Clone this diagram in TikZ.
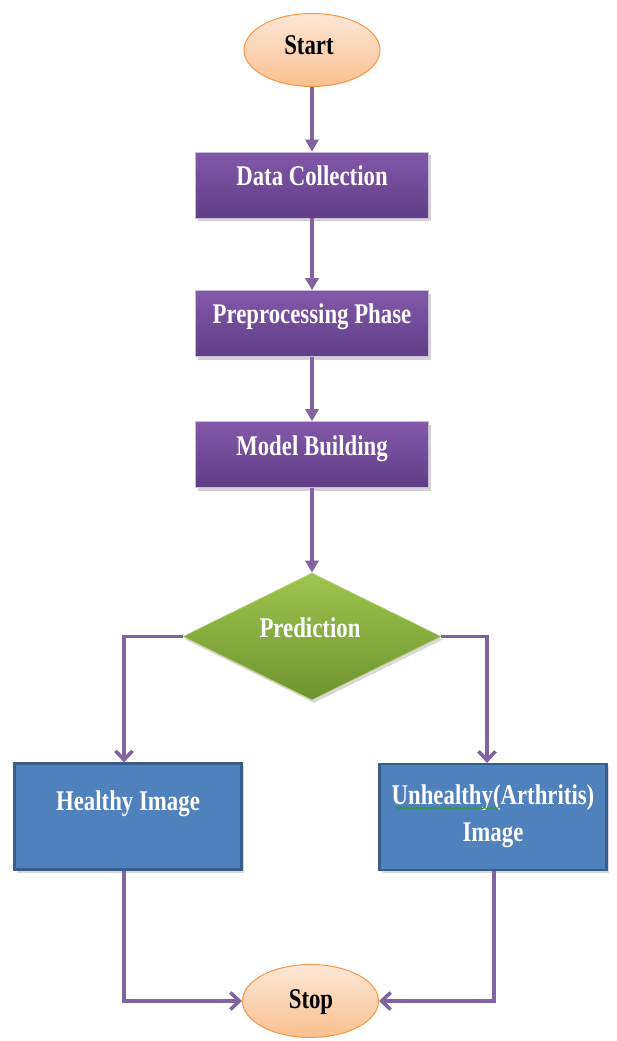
\documentclass[tikz,border=0pt]{standalone}
\usepackage{fontspec}
\setmainfont{Liberation Serif}
\usetikzlibrary{arrows.meta,shapes.geometric,calc,shadows,decorations.pathmorphing}

\definecolor{flowline}{HTML}{8064A2}
\definecolor{procTop}{HTML}{8259AA}
\definecolor{procBot}{HTML}{5E3E86}
\definecolor{procEdge}{HTML}{C9BCDB}
\definecolor{decTop}{HTML}{9FC44E}
\definecolor{decBot}{HTML}{6F9231}
\definecolor{outFill}{HTML}{4F81BD}
\definecolor{outEdge}{HTML}{385D8A}
\definecolor{termTop}{HTML}{FDE7D6}
\definecolor{termBot}{HTML}{FAC08F}
\definecolor{termEdge}{HTML}{F79646}
\definecolor{spellGreen}{HTML}{2E9E2E}

\newcommand{\narrow}[1]{\scalebox{0.8}[1]{#1}}

\tikzset{
  term/.style={ellipse, draw=termEdge, line width=1pt, top color=termTop,
    bottom color=termBot, inner sep=0pt, minimum width=136pt, minimum height=73pt},
  proc/.style={rectangle, draw=procEdge, line width=0.6pt, top color=procTop,
    bottom color=procBot, inner sep=0pt, minimum width=233pt, minimum height=66pt,
    drop shadow={shadow xshift=2pt, shadow yshift=-3pt, opacity=0.35}},
  dec/.style={diamond, draw=decTop!80!white, line width=0.6pt, top color=decTop,
    bottom color=decBot, inner sep=0pt, minimum width=258pt, minimum height=127pt,
    drop shadow={shadow xshift=2pt, shadow yshift=-3pt, opacity=0.3}},
  outbox/.style={rectangle, draw=outEdge, line width=2.2pt, fill=outFill,
    inner sep=0pt, minimum width=227pt, minimum height=106pt,
    drop shadow={shadow xshift=2pt, shadow yshift=-3pt, opacity=0.3}},
  lbl/.style={anchor=base, inner sep=0pt, font=\fontsize{28.5}{37}\selectfont\bfseries},
  wlbl/.style={lbl, text=white},
  flow/.style={draw=flowline, line width=3.6pt},
  fillhead/.style={flow, -{Triangle[width=13pt,length=12pt]}},
  openhead/.style={flow, -{Straight Barb[width=17pt,length=9pt,line width=3.6pt]}}
}

\begin{document}
\begin{tikzpicture}[x=1pt,y=-1pt]
\useasboundingbox (0,0) rectangle (616,1041);

% shapes, all on the centre line x = 312
\node[term]   (start) at (312,50) {};
\node[proc]   (dc)    at (312,185) {};
\node[proc]   (pp)    at (312,323.5) {};
\node[proc]   (mb)    at (312,454.5) {};
\node[dec]    (pred)  at (312,636.5) {};
\node[outbox] (hi)    at (128,816.5) {};
\node[outbox] (ui)    at (493,817) {};
\node[term]   (stop)  at (310.5,1001) {};

% labels
\node[lbl]  (startt) at (309,55)  {\narrow{Start}};
\node[wlbl] (dct)    at (312,185) {\narrow{Data Collection}};
\node[wlbl] (ppt)    at (312,323) {\narrow{Preprocessing Phase}};
\node[wlbl] (mbt)    at (312,455) {\narrow{Model Building}};
\node[wlbl] (predt)  at (310,637) {\narrow{Prediction}};
\node[wlbl] (hit)    at (128,810) {\narrow{Healthy Image}};
\node[wlbl] (uit1)   at (493,804) {\narrow{Unhealthy(Arthritis)}};
\node[wlbl] (uit2)   at (493,841) {\narrow{Image}};
\node[lbl]  (stopt)  at (311,1008) {\narrow{Stop}};

% spell-check squiggle under the first word
\coordinate (sq1) at (396,808);
\coordinate (sq2) at (500,808);
\draw[spellGreen, line width=0.8pt, decorate,
  decoration={snake, amplitude=0.9pt, segment length=3.5pt}] (sq1) -- (sq2);

% main sequence
\draw[fillhead] (start.south) -- (dc.north);
\draw[fillhead] (dc.south) -- (pp.north);
\draw[fillhead] (pp.south) -- (mb.north);
\draw[fillhead] (mb.south) -- (pred.north);

% branches
\draw[openhead] (pred.west) -| ($(hi.north)+(-4,0)$);
\draw[openhead] (pred.east) -| ($(ui.north)+(-6,0)$);

% joins to stop
\draw[openhead] ($(hi.south)+(-4,0)$) |- (stop.west);
\draw[openhead] ($(ui.south)+(1,0)$) |- (stop.east);
\end{tikzpicture}
\end{document}
